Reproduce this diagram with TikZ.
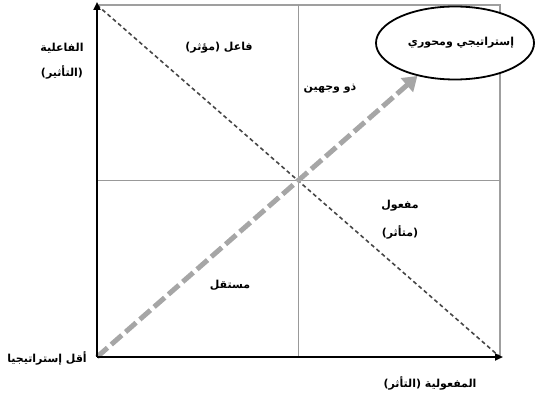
\documentclass[tikz,border=0pt]{standalone}
\usepackage{fontspec}
\newfontfamily\arabicfont[Script=Arabic]{DejaVu Sans}
\TeXXeTstate=1
\usetikzlibrary{arrows.meta,shapes.geometric}
\tikzset{
  lbl/.style={inner sep=0pt, font=\arabicfont\bfseries\fontsize{11}{13}\selectfont},
  axis/.style={line width=2.4pt, black, -{Triangle[length=8pt,width=7pt]}},
  frame/.style={line width=1.3pt, gray!75},
  midline/.style={line width=1pt, gray!80},
  thindash/.style={line width=1.6pt, gray!55!black, dash pattern=on 4pt off 3pt},
  thickdash/.style={line width=5pt, gray!70, dash pattern=on 14pt off 5pt, -{Triangle[length=14pt,width=18pt]}},
  goal/.style={ellipse, draw, line width=1.8pt, fill=white, minimum width=158pt, minimum height=73pt, inner sep=0pt}
}
\begin{document}
\begin{tikzpicture}[x=1pt,y=-1pt]
\useasboundingbox (0,0) rectangle (537,398);
\coordinate (O) at (97,357);
\coordinate (TL) at (97,5);
\coordinate (TR) at (500,5);
\coordinate (BR) at (500,357);
\coordinate (Ytip) at (97,2);
\coordinate (Xtip) at (503,357);
\coordinate (MT) at (298,5);
\coordinate (MB) at (298,357);
\coordinate (ML) at (97,180);
\coordinate (MR) at (500,180);
% frame
\draw[frame] (TL) -- (TR) -- (BR);
\draw[midline] (MT) -- (MB);
\draw[midline] (ML) -- (MR);
% thin diagonal
\draw[thindash] (TL) -- (BR);
% goal ellipse
\node[goal] (strat) at (455,43) {};
\node[lbl] (stratlbl) at (461,43) {\beginR إستراتيجي ومحوري\endR};
% thick arrow
\draw[thickdash] (O) -- (strat);
% axes
\draw[axis] (O) -- (Ytip);
\draw[axis] (O) -- (Xtip);
% labels
\node[lbl] (ya) at (62,48) {\beginR الفاعلية\endR};
\node[lbl] (yb) at (62,72) {\beginR (التأثير)\endR};
\node[lbl] (q1) at (219,48) {\beginR فاعل (مؤثر)\endR};
\node[lbl] (q2) at (330,89) {\beginR ذو وجهين\endR};
\node[lbl] (q3a) at (400,206) {\beginR مفعول\endR};
\node[lbl] (q3b) at (400,232) {\beginR (متأثر)\endR};
\node[lbl] (q4) at (230,285) {\beginR مستقل\endR};
\node[lbl] (lo) at (47,358) {\beginR أقل إستراتيجيا\endR};
\node[lbl] (xa) at (430,383) {\beginR المفعولية (التأثر)\endR};
\end{tikzpicture}
\end{document}
